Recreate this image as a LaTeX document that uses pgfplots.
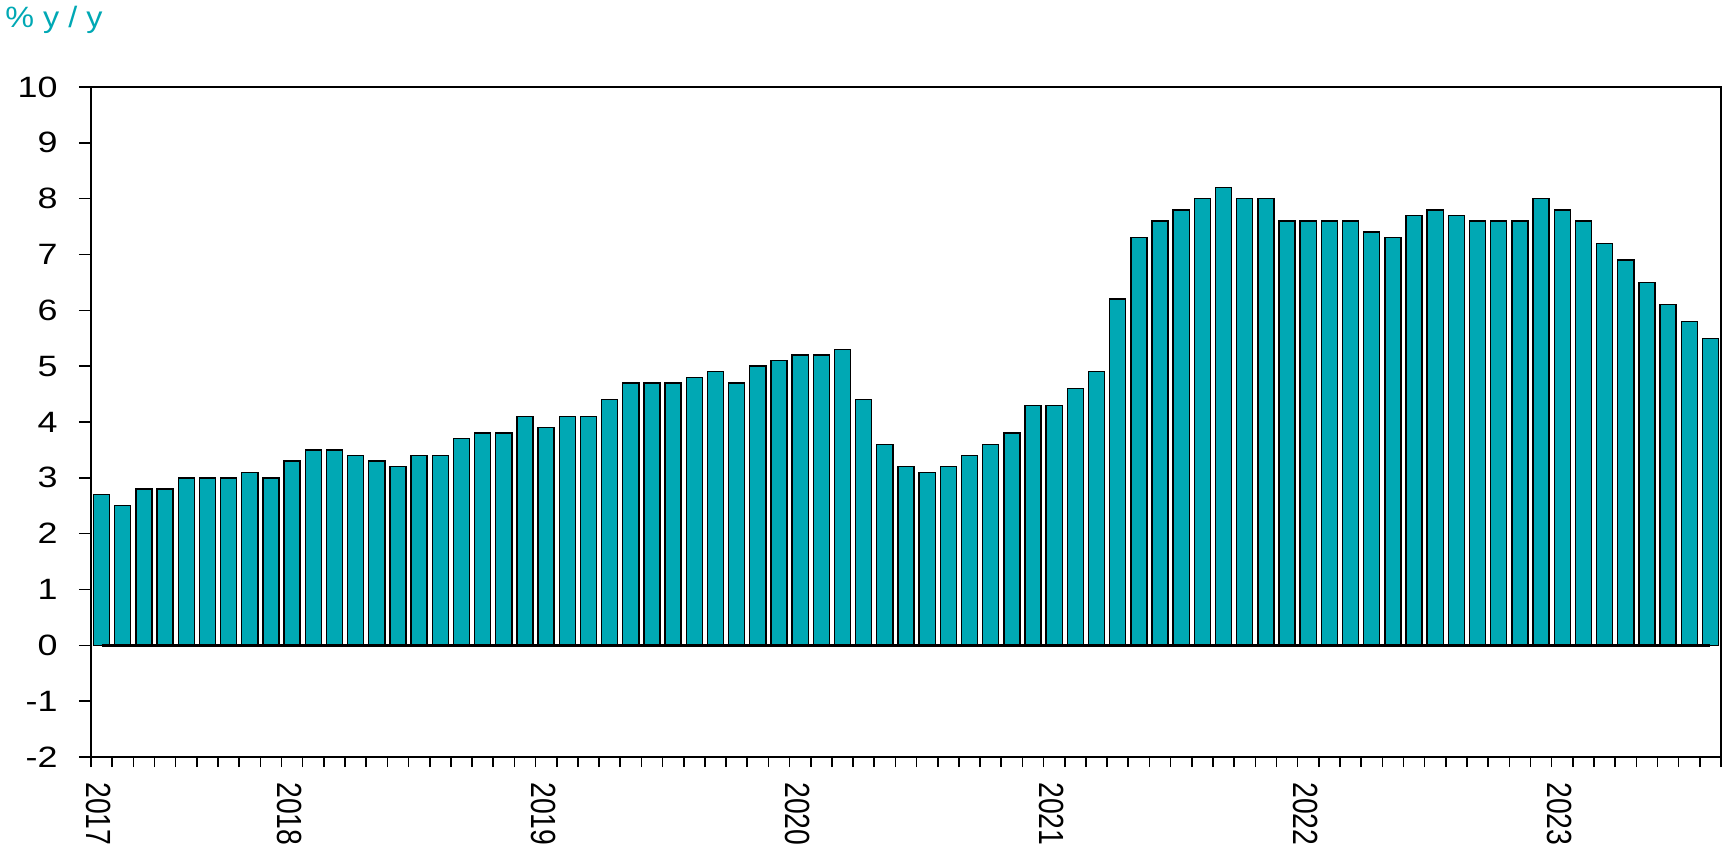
\documentclass[border=0pt]{standalone}
\usepackage{graphicx}
\usepackage{pgfplots}
\pgfplotsset{compat=1.18}
\usepackage{fontspec}
\setmainfont{Liberation Sans}
\definecolor{barteal}{HTML}{00A8B4}
\newcommand{\yl}[1]{\scalebox{1}[1.23]{#1}}
\begin{document}
\begin{tikzpicture}
\begin{axis}[
  at={(0,0)}, anchor=south west,
  scale only axis,
  width=815pt, height=335pt,
  xmin=-0.5, xmax=76.5,
  ymin=-2, ymax=10,
  ytick={-2,-1,0,1,2,3,4,5,6,7,8,9,10},
  yticklabels={-2,-1,0,1,2,3,4,5,6,7,8,9,10},
  xtick={0,9,21,33,45,57,69},
  xticklabels={\yl{2017},\yl{2018},\yl{2019},\yl{2020},\yl{2021},\yl{2022},\yl{2023}},
  minor xtick={-0.5,0.5,...,76.5},
  xtick pos=bottom, ytick pos=left,
  tick align=outside,
  major tick length=6pt,
  minor tick length=5pt,
  major x tick style={draw=none},
  tick style={black, line width=0.8pt},
  axis line style={black, line width=0.9pt},
  yticklabel style={font=\fontsize{14.7}{17}\selectfont, anchor=east, inner sep=0pt, xshift=-10.5pt, xscale=1.22},
  xticklabel style={font=\fontsize{14.2}{17}\selectfont, yshift=-6.5pt, xshift=-1.5pt, rotate=-90, anchor=west, inner sep=0pt},
  bar width=0.76,
  clip=false,
]
\addplot[ybar, fill=barteal, draw=black, line width=0.7pt] coordinates {
(0,2.7) (1,2.5) (2,2.8) (3,2.8) (4,3.0) (5,3.0) (6,3.0) (7,3.1) (8,3.0)
(9,3.3) (10,3.5) (11,3.5) (12,3.4) (13,3.3) (14,3.2) (15,3.4) (16,3.4) (17,3.7) (18,3.8) (19,3.8) (20,4.1)
(21,3.9) (22,4.1) (23,4.1) (24,4.4) (25,4.7) (26,4.7) (27,4.7) (28,4.8) (29,4.9) (30,4.7) (31,5.0) (32,5.1)
(33,5.2) (34,5.2) (35,5.3) (36,4.4) (37,3.6) (38,3.2) (39,3.1) (40,3.2) (41,3.4) (42,3.6) (43,3.8) (44,4.3)
(45,4.3) (46,4.6) (47,4.9) (48,6.2) (49,7.3) (50,7.6) (51,7.8) (52,8.0) (53,8.2) (54,8.0) (55,8.0) (56,7.6)
(57,7.6) (58,7.6) (59,7.6) (60,7.4) (61,7.3) (62,7.7) (63,7.8) (64,7.7) (65,7.6) (66,7.6) (67,7.6) (68,8.0)
(69,7.8) (70,7.6) (71,7.2) (72,6.9) (73,6.5) (74,6.1) (75,5.8) (76,5.5)
};
\addplot[black, line width=1.5pt, mark=none, forget plot] coordinates {(0,0) (76,0)};
\end{axis}
\node[anchor=north west, inner sep=0pt, text=barteal, xscale=1.1, font=\fontsize{14.7}{17}\selectfont] at (-43pt,375.5pt) {\% y / y};
\pgfresetboundingbox
\path[use as bounding box] (-45.5pt,-45pt) rectangle (816pt,378.5pt);
\end{tikzpicture}
\end{document}
